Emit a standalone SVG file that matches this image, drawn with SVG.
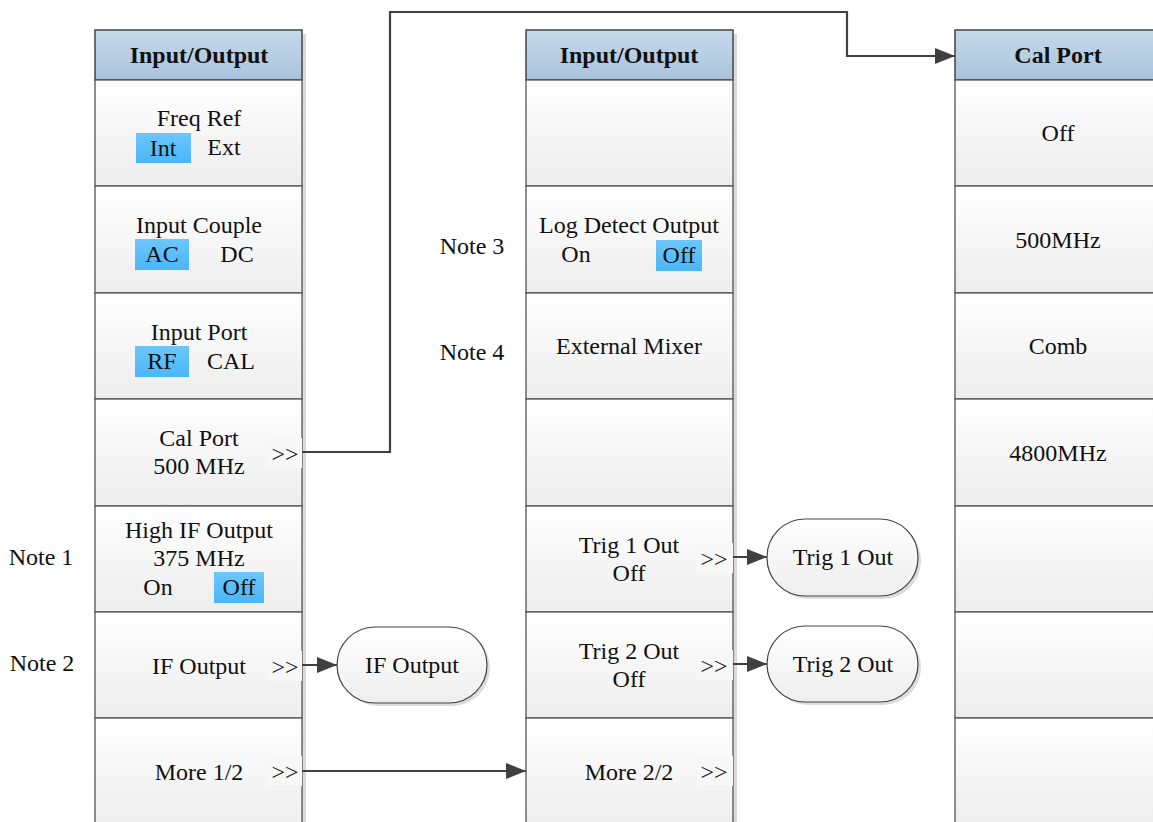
<svg xmlns="http://www.w3.org/2000/svg" width="1153" height="822" viewBox="0 0 1153 822">
<defs>
<linearGradient id="cellG" x1="0" y1="0" x2="0" y2="1"><stop offset="0" stop-color="#ffffff"/><stop offset="1" stop-color="#ededed"/></linearGradient>
<linearGradient id="headG" x1="0" y1="0" x2="0" y2="1"><stop offset="0" stop-color="#c6d9eb"/><stop offset="1" stop-color="#a9c3dc"/></linearGradient>
<linearGradient id="hiG" x1="0" y1="0" x2="0" y2="1"><stop offset="0" stop-color="#6cc6fb"/><stop offset="1" stop-color="#4ab6fa"/></linearGradient>
<linearGradient id="ovG" x1="0" y1="0" x2="0" y2="1"><stop offset="0" stop-color="#ffffff"/><stop offset="1" stop-color="#eeeeee"/></linearGradient>
<marker id="arr" markerWidth="20" markerHeight="16" refX="20" refY="8" orient="auto" markerUnits="userSpaceOnUse" viewBox="0 0 20 16"><path d="M0,0 L20,8 L0,16 z" fill="#404040"/></marker>
</defs>
<style>
.cell{fill:url(#cellG);stroke:#555;stroke-width:1.3}
.head{fill:url(#headG);stroke:#444;stroke-width:1.5}
.shadow{fill:#d9d9d9}
.t{font-family:"Liberation Serif","Times New Roman",serif;font-size:24px;fill:#111;text-anchor:middle}
.h{font-family:"Liberation Serif","Times New Roman",serif;font-size:24px;font-weight:bold;fill:#111;text-anchor:middle}
.hi{fill:url(#hiG)}
.gt{fill:#f7f7f7}
.ov{fill:url(#ovG);stroke:#444;stroke-width:1.2}
.ovs{fill:#dcdcdc}
.c{fill:none;stroke:#404040;stroke-width:2.2}
</style>
<rect width="1153" height="822" fill="#ffffff"/>

<g id="col1">
<rect class="shadow" x="99" y="34" width="207" height="790"/>
<g id="c1-head"><rect class="head" x="95" y="30" width="207" height="50"/><text class="h" x="199" y="63">Input/Output</text></g>
<g id="c1-freqref"><rect class="cell" x="95" y="80" width="207" height="106"/><text class="t" x="199" y="126">Freq Ref</text><rect class="hi" x="136" y="133" width="55" height="30"/><text class="t" x="163" y="156">Int</text><text class="t" x="224" y="155">Ext</text></g>
<g id="c1-inputcouple"><rect class="cell" x="95" y="186" width="207" height="107"/><text class="t" x="199" y="233">Input Couple</text><rect class="hi" x="135" y="239" width="54" height="31"/><text class="t" x="162" y="262">AC</text><text class="t" x="237" y="262">DC</text></g>
<g id="c1-inputport"><rect class="cell" x="95" y="293" width="207" height="106"/><text class="t" x="199" y="340">Input Port</text><rect class="hi" x="135" y="346" width="54" height="31"/><text class="t" x="162" y="369">RF</text><text class="t" x="231" y="369">CAL</text></g>
<g id="c1-calport"><rect class="cell" x="95" y="399" width="207" height="107"/><text class="t" x="199" y="446">Cal Port</text><text class="t" x="199" y="474">500 MHz</text><rect class="gt" x="268" y="438" width="34" height="30"/><text class="t" x="285" y="462">&gt;&gt;</text></g>
<g id="c1-highif"><rect class="cell" x="95" y="506" width="207" height="106"/><text class="t" x="199" y="538">High IF Output</text><text class="t" x="199" y="566">375 MHz</text><rect class="hi" x="214" y="572" width="50" height="31"/><text class="t" x="158" y="595">On</text><text class="t" x="239" y="595">Off</text></g>
<g id="c1-ifoutput"><rect class="cell" x="95" y="612" width="207" height="106"/><text class="t" x="199" y="674">IF Output</text><rect class="gt" x="268" y="651" width="34" height="30"/><text class="t" x="285" y="675">&gt;&gt;</text></g>
<g id="c1-more"><rect class="cell" x="95" y="718" width="207" height="110"/><text class="t" x="199" y="780">More 1/2</text><rect class="gt" x="268" y="756" width="34" height="30"/><text class="t" x="285" y="780">&gt;&gt;</text></g>
</g>

<g id="col2">
<rect class="shadow" x="530" y="34" width="207" height="790"/>
<g id="c2-head"><rect class="head" x="526" y="30" width="207" height="50"/><text class="h" x="629" y="63">Input/Output</text></g>
<g id="c2-empty1"><rect class="cell" x="526" y="80" width="207" height="106"/></g>
<g id="c2-logdetect"><rect class="cell" x="526" y="186" width="207" height="107"/><text class="t" x="629" y="233">Log Detect Output</text><rect class="hi" x="656" y="240" width="46" height="31"/><text class="t" x="576" y="262">On</text><text class="t" x="679" y="263">Off</text></g>
<g id="c2-extmixer"><rect class="cell" x="526" y="293" width="207" height="106"/><text class="t" x="629" y="354">External Mixer</text></g>
<g id="c2-empty2"><rect class="cell" x="526" y="399" width="207" height="107"/></g>
<g id="c2-trig1"><rect class="cell" x="526" y="506" width="207" height="106"/><text class="t" x="629" y="553">Trig 1 Out</text><text class="t" x="629" y="581">Off</text><rect class="gt" x="697" y="543" width="36" height="30"/><text class="t" x="714" y="567">&gt;&gt;</text></g>
<g id="c2-trig2"><rect class="cell" x="526" y="612" width="207" height="106"/><text class="t" x="629" y="659">Trig 2 Out</text><text class="t" x="629" y="687">Off</text><rect class="gt" x="697" y="650" width="36" height="30"/><text class="t" x="714" y="674">&gt;&gt;</text></g>
<g id="c2-more"><rect class="cell" x="526" y="718" width="207" height="110"/><text class="t" x="629" y="780">More 2/2</text><rect class="gt" x="697" y="756" width="36" height="30"/><text class="t" x="714" y="780">&gt;&gt;</text></g>
</g>

<g id="col3">
<rect class="shadow" x="959" y="34" width="207" height="790"/>
<g id="c3-head"><rect class="head" x="955" y="30" width="207" height="50"/><text class="h" x="1058" y="63">Cal Port</text></g>
<g id="c3-off"><rect class="cell" x="955" y="80" width="207" height="106"/><text class="t" x="1058" y="141">Off</text></g>
<g id="c3-500"><rect class="cell" x="955" y="186" width="207" height="107"/><text class="t" x="1058" y="248">500MHz</text></g>
<g id="c3-comb"><rect class="cell" x="955" y="293" width="207" height="106"/><text class="t" x="1058" y="354">Comb</text></g>
<g id="c3-4800"><rect class="cell" x="955" y="399" width="207" height="107"/><text class="t" x="1058" y="461">4800MHz</text></g>
<g id="c3-e1"><rect class="cell" x="955" y="506" width="207" height="106"/></g>
<g id="c3-e2"><rect class="cell" x="955" y="612" width="207" height="106"/></g>
<g id="c3-e3"><rect class="cell" x="955" y="718" width="207" height="110"/></g>
</g>

<g id="notes">
<text class="t" x="41" y="565">Note 1</text>
<text class="t" x="42" y="671">Note 2</text>
<text class="t" x="472" y="254">Note 3</text>
<text class="t" x="472" y="360">Note 4</text>
</g>

<g id="node-ifoutput"><rect class="ovs" x="340" y="630" width="150" height="76" rx="38"/><rect class="ov" x="337" y="627" width="150" height="76" rx="38"/><text class="t" x="412" y="673">IF Output</text></g>
<g id="node-trig1"><rect class="ovs" x="770" y="522" width="151" height="77" rx="38"/><rect class="ov" x="767" y="519" width="151" height="77" rx="38"/><text class="t" x="843" y="565">Trig 1 Out</text></g>
<g id="node-trig2"><rect class="ovs" x="770" y="629" width="151" height="76" rx="38"/><rect class="ov" x="767" y="626" width="151" height="76" rx="38"/><text class="t" x="843" y="672">Trig 2 Out</text></g>

<g id="connectors">
<path class="c" d="M302,452 H390 V12 H847 V56 H955" marker-end="url(#arr)"/>
<path class="c" d="M302,665 H337" marker-end="url(#arr)"/>
<path class="c" d="M302,771 H526" marker-end="url(#arr)"/>
<path class="c" d="M733,557 H767" marker-end="url(#arr)"/>
<path class="c" d="M733,664 H767" marker-end="url(#arr)"/>
</g>
</svg>
